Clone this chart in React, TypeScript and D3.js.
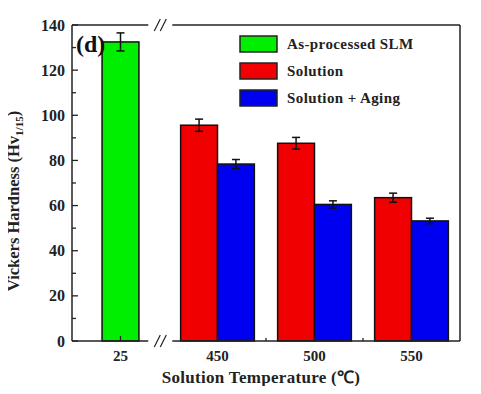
import React, { useEffect, useRef } from 'react';
import * as d3 from 'd3';

// temperatures on x axis
const temps = ['25', '450', '500', '550'];
const seriesNames = ['As-processed SLM', 'Solution', 'Solution + Aging'];
const seriesColors = ['#00ee00', '#f00000', '#0000f0'];

// as-processed sample only at room temperature
const asProcessed = [132.5];
const asProcessedErr = [4];
const solution = [95.6, 87.6, 63.5];
const solutionErr = [2.7, 2.6, 2];
const aging = [78.4, 60.5, 53.2];
const agingErr = [2, 1.6, 1.2];
const yTicks = [0, 20, 40, 60, 80, 100, 120, 140];

const FONT = '"Liberation Serif", "Times New Roman", serif';

const App: React.FC = () => {
    const ref = useRef<HTMLDivElement>(null);

    useEffect(() => {
        if (!ref.current) return;
        const width = 481, height = 394;
        const margin = { top: 25, right: 21, bottom: 53, left: 72 };
        const x0 = margin.left, x1 = width - margin.right;
        const y0 = margin.top, y1 = height - margin.bottom;

        const svg = d3.select(ref.current)
            .append('svg')
            .attr('width', width)
            .attr('height', height)
            .style('display', 'block')
            .style('font-family', FONT)
            .style('font-weight', 'bold');

        const x = d3.scaleBand().domain(temps).range([x0, x1]).padding(0);
        const y = d3.scaleLinear().domain([0, 140]).range([y1, y0]);
        const bw = x.bandwidth() * 0.38;
        const cx = (t: string) => (x(t) || 0) + x.bandwidth() / 2;

        // bars
        const bars: { t: string; v: number; e: number; s: number; off: number }[] = [];
        asProcessed.forEach((v, i) => bars.push({ t: temps[i], v, e: asProcessedErr[i], s: 0, off: -bw / 2 }));
        solution.forEach((v, i) => bars.push({ t: temps[i + 1], v, e: solutionErr[i], s: 1, off: -bw }));
        aging.forEach((v, i) => bars.push({ t: temps[i + 1], v, e: agingErr[i], s: 2, off: 0 }));

        const g = svg.append('g');
        g.selectAll('rect.bar')
            .data(bars)
            .enter()
            .append('rect')
            .attr('x', d => cx(d.t) + d.off)
            .attr('y', d => y(d.v))
            .attr('width', bw)
            .attr('height', d => y(0) - y(d.v))
            .attr('fill', d => seriesColors[d.s])
            .attr('stroke', '#111')
            .attr('stroke-width', 1.5);

        // error bars
        const eb = g.selectAll('g.err').data(bars).enter().append('g')
            .attr('stroke', '#111').attr('stroke-width', 1.5);
        eb.append('line')
            .attr('x1', d => cx(d.t) + d.off + bw / 2)
            .attr('x2', d => cx(d.t) + d.off + bw / 2)
            .attr('y1', d => y(d.v - d.e))
            .attr('y2', d => y(d.v + d.e));
        eb.append('line')
            .attr('x1', d => cx(d.t) + d.off + bw / 2 - 4)
            .attr('x2', d => cx(d.t) + d.off + bw / 2 + 4)
            .attr('y1', d => y(d.v + d.e))
            .attr('y2', d => y(d.v + d.e));
        eb.append('line')
            .attr('x1', d => cx(d.t) + d.off + bw / 2 - 4)
            .attr('x2', d => cx(d.t) + d.off + bw / 2 + 4)
            .attr('y1', d => y(d.v - d.e))
            .attr('y2', d => y(d.v - d.e));

        // frame with axis break
        const brk = cx('25') + x.bandwidth() * 0.41;
        const gapL = brk - 12, gapR = brk + 12;
        const frame = svg.append('g').attr('stroke', '#222').attr('stroke-width', 1.5).attr('fill', 'none');
        frame.append('line').attr('x1', x0).attr('x2', x0).attr('y1', y0).attr('y2', y1);
        frame.append('line').attr('x1', x1).attr('x2', x1).attr('y1', y0).attr('y2', y1);
        [y0, y1].forEach(yy => {
            frame.append('line').attr('x1', x0).attr('x2', gapL).attr('y1', yy).attr('y2', yy);
            frame.append('line').attr('x1', gapR).attr('x2', x1).attr('y1', yy).attr('y2', yy);
            [-3, 3].forEach(dx => {
                frame.append('line')
                    .attr('x1', brk + dx - 3).attr('x2', brk + dx + 3)
                    .attr('y1', yy + 6).attr('y2', yy - 6)
                    .attr('stroke-width', 1.2);
            });
        });

        // y ticks (inward) and minor ticks
        const yAx = svg.append('g').attr('stroke', '#222').attr('stroke-width', 1.3);
        d3.range(0, 141, 10).forEach(v => {
            const major = v % 20 === 0;
            yAx.append('line')
                .attr('x1', x0).attr('x2', x0 + (major ? 6 : 4))
                .attr('y1', y(v)).attr('y2', y(v));
        });
        svg.append('g').selectAll('text').data(yTicks).enter().append('text')
            .attr('x', x0 - 7)
            .attr('y', d => y(d))
            .attr('dy', '0.35em')
            .attr('text-anchor', 'end')
            .attr('font-size', 16)
            .attr('fill', '#222')
            .text(d => d);

        // x ticks: centers and minor midpoints
        const xAx = svg.append('g').attr('stroke', '#222').attr('stroke-width', 1.3);
        temps.forEach((t, i) => {
            xAx.append('line').attr('x1', cx(t)).attr('x2', cx(t)).attr('y1', y1).attr('y2', y1 - 5);
            if (i > 0) {
                const m = (x(t) || 0);
                if (m > gapR) xAx.append('line').attr('x1', m).attr('x2', m).attr('y1', y1).attr('y2', y1 - 3);
            }
        });
        svg.append('g').selectAll('text').data(temps).enter().append('text')
            .attr('x', d => cx(d))
            .attr('y', y1 + 20)
            .attr('text-anchor', 'middle')
            .attr('font-size', 15)
            .attr('fill', '#222')
            .text(d => d);

        // axis titles
        svg.append('text')
            .attr('x', (x0 + x1) / 2 - 5)
            .attr('y', y1 + 42)
            .attr('text-anchor', 'middle')
            .attr('font-size', 17)
            .attr('fill', '#222')
            .attr('letter-spacing', 0.3)
            .text('Solution Temperature (\u2103)');

        const yt = svg.append('text')
            .attr('transform', `translate(19, ${(y0 + y1) / 2 + 18}) rotate(-90)`)
            .attr('text-anchor', 'middle')
            .attr('font-size', 16.5)
            .attr('fill', '#222');
        yt.append('tspan').text('Vickers Hardness (Hv');
        yt.append('tspan').attr('font-size', 11).attr('dy', 4).text('1/15');
        yt.append('tspan').attr('dy', -4).text(')');

        // panel label
        svg.append('text')
            .attr('x', x0 + 4)
            .attr('y', y0 + 27)
            .attr('font-size', 24)
            .attr('fill', '#111')
            .text('(d)');

        // legend
        const leg = svg.append('g').attr('transform', `translate(240, 36)`);
        seriesNames.forEach((name, i) => {
            const row = leg.append('g').attr('transform', `translate(0, ${i * 27})`);
            row.append('rect')
                .attr('width', 37).attr('height', 16)
                .attr('fill', seriesColors[i])
                .attr('stroke', '#222').attr('stroke-width', 1.5);
            row.append('text')
                .attr('x', 47).attr('y', 8)
                .attr('dy', '0.35em')
                .attr('font-size', 15)
                .attr('letter-spacing', 0.4)
                .attr('fill', '#222')
                .text(name);
        });

        return () => {
            svg.remove();
        };
    }, []);

    return (
        <div style={{ margin: -8 }}>
            <div ref={ref}></div>
        </div>
    );
};

export default App;
